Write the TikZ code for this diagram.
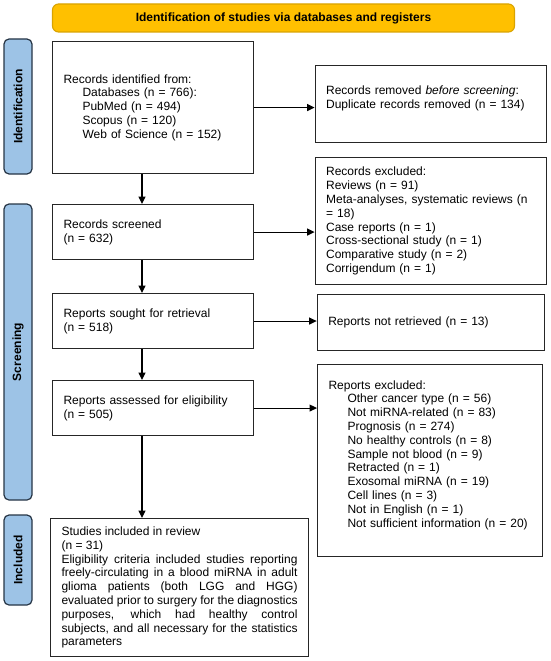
\documentclass[tikz,border=0pt]{standalone}
\usepackage{fontspec}
\setmainfont{Liberation Sans}
\usetikzlibrary{arrows.meta}
\definecolor{titlefill}{HTML}{FFC000}
\definecolor{titleline}{HTML}{D9A300}
\definecolor{sidefill}{HTML}{9DC3E6}
\definecolor{sideline}{HTML}{263545}
\definecolor{boxline}{HTML}{262626}
\newcommand{\myfs}{\fontsize{12}{13.8}\selectfont}
\begin{document}
\begin{tikzpicture}[x=1pt,y=-1pt,
  box/.style={draw=boxline, line width=1.1pt, fill=white, anchor=north west,
    inner xsep=11pt, inner ysep=1pt, align=left, font=\myfs},
  sidebar/.style={draw=sideline, line width=1.2pt, fill=sidefill, rounded corners=5pt,
    rotate=90, minimum height=28pt, inner sep=0pt, font=\myfs\bfseries},
  titlebar/.style={draw=titleline, line width=1.1pt, fill=titlefill, rounded corners=6pt,
    minimum width=462pt, minimum height=28pt, inner sep=0pt, font=\myfs\bfseries},
  arr/.style={-{Triangle[length=7.5pt,width=7pt]}, line width=1.1pt, draw=black}]
\useasboundingbox (0,0) rectangle (550,661);

% title and side bars
\node[titlebar] (title) at (283.5,18) {Identification of studies via databases and registers};
\node[sidebar, minimum width=135pt] (sideid) at (18,106.5) {Identification};
\node[sidebar, minimum width=296pt] (sidescr) at (18,352) {Screening};
\node[sidebar, minimum width=90pt] (sideinc) at (18,560) {Included};

% left column
\node[box, minimum width=201pt, minimum height=132pt, text width=179pt] (ident) at (52,41)
  {Records identified from:\\
   \hspace*{19pt}Databases (n = 766):\\
   \hspace*{19pt}PubMed (n = 494)\\
   \hspace*{19pt}Scopus (n = 120)\\
   \hspace*{19pt}Web of Science (n = 152)};
\node[box, minimum width=201pt, minimum height=55pt, text width=179pt] (screened) at (52,204)
  {Records screened\\(n = 632)};
\node[box, minimum width=201pt, minimum height=55pt, text width=179pt] (sought) at (52,293)
  {Reports sought for retrieval\\(n = 518)};
\node[box, minimum width=201pt, minimum height=55pt, text width=179pt] (assessed) at (52,380)
  {Reports assessed for eligibility\\(n = 505)};
\node[box, align=justify, minimum width=258pt, minimum height=138pt, text width=236pt] (incl) at (50,518)
  {\tolerance=10000\hbadness=10000 Studies included in review\\(n = 31)\\Eligibility criteria included studies reporting\linebreak
   freely-circulating in a blood miRNA in adult\linebreak
   glioma patients (both LGG and HGG)\linebreak
   evaluated prior to surgery for the diagnostics\linebreak
   purposes, which had healthy control\linebreak
   subjects, and all necessary for the statistics\linebreak
   parameters};

% right column
\node[box, minimum width=231.4pt, minimum height=77pt, text width=209.4pt] (removed) at (314.6,65)
  {Records removed \textit{before screening}:\\Duplicate records removed (n = 134)\\ \mbox{}};
\node[box, minimum width=231.4pt, minimum height=127pt, text width=209.4pt] (exclrec) at (314.6,157)
  {Records excluded:\\Reviews (n = 91)\\Meta-analyses, systematic reviews (n\\= 18)\\Case reports (n = 1)\\Cross-sectional study (n = 1)\\Comparative study (n = 2)\\Corrigendum (n = 1)};
\node[box, minimum width=227.6pt, minimum height=56pt, text width=205.6pt] (notret) at (316.7,294)
  {Reports not retrieved (n = 13)};
\node[box, minimum width=225pt, minimum height=192pt, text width=203pt] (exclrep) at (317,364)
  {Reports excluded:\\
   \hspace*{19pt}Other cancer type (n = 56)\\
   \hspace*{19pt}Not miRNA-related (n = 83)\\
   \hspace*{19pt}Prognosis (n = 274)\\
   \hspace*{19pt}No healthy controls (n = 8)\\
   \hspace*{19pt}Sample not blood (n = 9)\\
   \hspace*{19pt}Retracted (n = 1)\\
   \hspace*{19pt}Exosomal miRNA (n = 19)\\
   \hspace*{19pt}Cell lines (n = 3)\\
   \hspace*{19pt}Not in English (n = 1)\\
   \hspace*{19pt}Not sufficient information (n = 20)\\ \mbox{}};

% connectors
\coordinate (ax) at (142,0);
\draw[arr] (ident.south -| ax) -- (screened.north -| ax);
\draw[arr] (screened.south -| ax) -- (sought.north -| ax);
\draw[arr] (sought.south -| ax) -- (assessed.north -| ax);
\draw[arr] (assessed.south -| ax) -- (incl.north -| ax);
\draw[arr] (ident.east) -- (ident.east -| removed.west);
\draw[arr] (screened.east) -- (screened.east -| exclrec.west);
\draw[arr] (sought.east) -- (sought.east -| notret.west);
\draw[arr] (assessed.east) -- (assessed.east -| exclrep.west);
\end{tikzpicture}
\end{document}
